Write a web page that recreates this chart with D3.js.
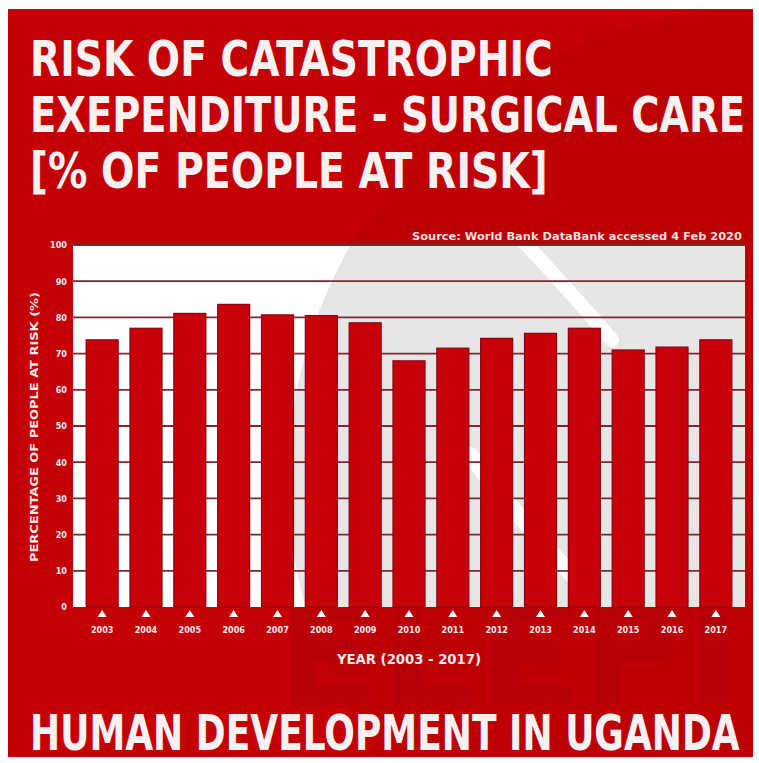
<!DOCTYPE html>
<html>
<head>
<meta charset="utf-8">
<script src="https://cdn.jsdelivr.net/npm/d3@7"></script>
<style>
  html, body { margin: 0; padding: 0; background: #fff; }
  text { font-family: "DejaVu Sans Condensed", "Liberation Sans Narrow", sans-serif; font-weight: bold; }
</style>
</head>
<body>
<div id="chart"></div>
<script>
// données
const years = ['2003', '2004', '2005', '2006', '2007', '2008', '2009', '2010',
               '2011', '2012', '2013', '2014', '2015', '2016', '2017'];
const riskValues = [73.8, 77.0, 81.1, 83.6, 80.7, 80.5, 78.5, 68.0,
                    71.5, 74.2, 75.6, 77.0, 71.0, 71.8, 73.8];
const yTicks = [0, 10, 20, 30, 40, 50, 60, 70, 80, 90, 100];
const titleLines = ['RISK OF CATASTROPHIC', 'EXEPENDITURE - SURGICAL CARE', '[% OF PEOPLE AT RISK]'];

const W = 759, H = 763;
const plot = { left: 73, right: 745, top: 245, bottom: 607 };

const svg = d3.select('#chart')
    .append('svg')
    .attr('width', W)
    .attr('height', H);

// fond rouge
svg.append('rect')
    .attr('x', 8).attr('y', 9)
    .attr('width', 745).attr('height', 748)
    .attr('fill', '#c40006');

const defs = svg.append('defs');
defs.append('clipPath').attr('id', 'bg-clip')
    .append('rect').attr('x', 8).attr('y', 9).attr('width', 745).attr('height', 748);
defs.append('clipPath').attr('id', 'plot-clip')
    .append('rect')
    .attr('x', plot.left).attr('y', plot.top)
    .attr('width', plot.right - plot.left).attr('height', plot.bottom - plot.top);

// logo en filigrane
const deco = svg.append('g').attr('clip-path', 'url(#bg-clip)');
deco.append('circle')
    .attr('cx', 760).attr('cy', 480).attr('r', 472)
    .attr('fill', '#bc0006');
// blocs sombres (lettres en filigrane)
const blocks = [
    [290, 600, 26, 105], [290, 600, 80, 20], [290, 642, 70, 20], [290, 685, 80, 20],
    [395, 600, 26, 105], [395, 685, 75, 20],
    [492, 600, 26, 105], [492, 600, 80, 20], [492, 642, 70, 20], [492, 685, 80, 20],
    [595, 600, 26, 105], [595, 600, 70, 20], [595, 640, 70, 20], [650, 600, 20, 60],
    [700, 600, 26, 105]
];
deco.append('g')
    .selectAll('rect')
    .data(blocks)
    .enter()
    .append('rect')
    .attr('x', d => d[0]).attr('y', d => d[1])
    .attr('width', d => d[2]).attr('height', d => d[3])
    .attr('fill', '#b70007');

// zone du graphique
const plotBg = svg.append('g').attr('clip-path', 'url(#plot-clip)');
plotBg.append('rect')
    .attr('x', plot.left).attr('y', plot.top)
    .attr('width', plot.right - plot.left).attr('height', plot.bottom - plot.top)
    .attr('fill', '#ffffff');
plotBg.append('circle')
    .attr('cx', 760).attr('cy', 480).attr('r', 472)
    .attr('fill', '#e6e6e6');
plotBg.append('path')
    .attr('d', 'M522,240 Q560,280 612,340')
    .attr('fill', 'none')
    .attr('stroke', '#ffffff')
    .attr('stroke-width', 14)
    .attr('stroke-linecap', 'round');
plotBg.append('path')
    .attr('d', 'M470,455 Q520,520 572,575')
    .attr('fill', 'none')
    .attr('stroke', '#ffffff')
    .attr('stroke-width', 16)
    .attr('stroke-linecap', 'round');

// échelles
const x = d3.scaleBand()
    .domain(years)
    .range([plot.left, plot.right])
    .paddingInner(0.27)
    .paddingOuter(0.3);

const y = d3.scaleLinear()
    .domain([0, 100])
    .range([plot.bottom, plot.top]);

// lignes de grille
svg.append('g')
    .selectAll('line')
    .data(yTicks.filter(d => d > 0))
    .enter()
    .append('line')
    .attr('x1', plot.left).attr('x2', plot.right)
    .attr('y1', d => y(d)).attr('y2', d => y(d))
    .attr('stroke', '#7d2636')
    .attr('stroke-width', 1.8);

// barres
svg.append('g')
    .selectAll('rect')
    .data(riskValues)
    .enter()
    .append('rect')
    .attr('x', (d, i) => x(years[i]))
    .attr('y', d => y(d))
    .attr('width', x.bandwidth())
    .attr('height', d => y(0) - y(d))
    .attr('fill', '#c8000a')
    .attr('stroke', '#8e0010')
    .attr('stroke-width', 1.2);

// axe Y
const yAxis = svg.append('g')
    .attr('transform', `translate(${plot.left},0)`)
    .call(d3.axisLeft(y).tickValues(yTicks).tickSize(0).tickPadding(6));
yAxis.select('.domain').remove();
yAxis.selectAll('text')
    .attr('fill', '#f4eaea')
    .attr('font-size', 9)
    .style('font-family', '"DejaVu Sans Condensed", sans-serif')
    .style('font-weight', 'bold');

// axe X
const xAxis = svg.append('g')
    .attr('transform', `translate(0,${plot.bottom})`)
    .call(d3.axisBottom(x).tickSize(0).tickPadding(20));
xAxis.select('.domain').remove();
xAxis.selectAll('text')
    .attr('fill', '#f4eaea')
    .attr('font-size', 9)
    .style('font-family', '"DejaVu Sans Condensed", sans-serif')
    .style('font-weight', 'bold');
xAxis.selectAll('.tick')
    .append('path')
    .attr('d', 'M0,3 L4.5,10 L-4.5,10 Z')
    .attr('fill', '#ffffff');

// titres des axes
svg.append('text')
    .text('PERCENTAGE OF PEOPLE AT RISK (%)')
    .attr('transform', 'translate(38,427) rotate(-90)')
    .attr('text-anchor', 'middle')
    .attr('font-size', 11)
    .attr('textLength', 270)
    .attr('lengthAdjust', 'spacingAndGlyphs')
    .attr('fill', '#f4eaea');

svg.append('text')
    .text('YEAR (2003 - 2017)')
    .attr('x', 409).attr('y', 664)
    .attr('text-anchor', 'middle')
    .attr('font-size', 14)
    .attr('textLength', 144)
    .attr('lengthAdjust', 'spacingAndGlyphs')
    .attr('fill', '#f4eaea');

svg.append('text')
    .text('Source: World Bank DataBank accessed 4 Feb 2020')
    .attr('x', 742).attr('y', 240)
    .attr('text-anchor', 'end')
    .attr('font-size', 11)
    .attr('textLength', 330)
    .attr('lengthAdjust', 'spacingAndGlyphs')
    .attr('fill', '#eedede');

// gros titres : mis à la largeur voulue par une échelle horizontale
function bigText(str, x0, y0, width) {
    const t = svg.append('text')
        .text(str)
        .attr('font-size', 49)
        .attr('fill', '#f7f1f1');
    const len = t.node().getComputedTextLength();
    t.attr('transform', `translate(${x0},${y0}) scale(${width / len},1)`);
}

const titleWidths = [523, 715, 518];
titleLines.forEach((line, i) => bigText(line, 30, 76 + i * 56, titleWidths[i]));
bigText('HUMAN DEVELOPMENT IN UGANDA', 30, 750, 710);
</script>
</body>
</html>
